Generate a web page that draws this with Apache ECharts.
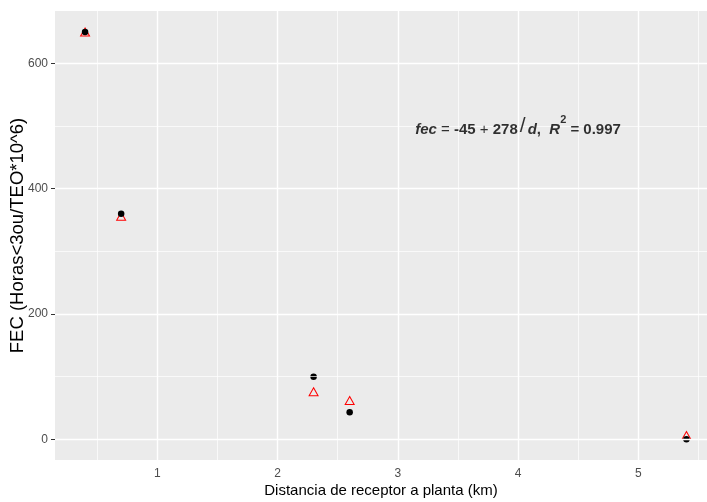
<!DOCTYPE html>
<html>
<head>
<meta charset="utf-8">
<script src="https://cdn.jsdelivr.net/npm/echarts@6/dist/echarts.min.js"></script>
<style>
html,body{margin:0;padding:0;background:#fff;}
#c{width:707px;height:502px;}
</style>
</head>
<body>
<div id="c"></div>
<script>
// Data
var distance = [0.4, 0.7, 2.3, 2.6, 5.4];
var observed = [650, 360, 100, 43, 0];
var fitted = [650, 356, 76, 62, 6];
var xTicks = [1, 2, 3, 4, 5];
var xMinor = [0.5, 1.5, 2.5, 3.5, 4.5, 5.5];
var yTicks = [0, 200, 400, 600];
var yMinor = [100, 300, 500];
var annotationPos = [4, 500];
var xTitle = 'Distancia de receptor a planta (km)';
var yTitle = 'FEC (Horas<3ou/TEO*10^6)';

var FONT = '"Liberation Sans", Arial, sans-serif';
var chart = echarts.init(document.getElementById('c'), null, {renderer: 'canvas'});

function pairs(xs, ys) { return xs.map(function (x, i) { return [x, ys[i]]; }); }

var gridLines = [];
xMinor.forEach(function (v) { gridLines.push({xAxis: v, lineStyle: {color: '#FFFFFF', width: 0.7, type: 'solid'}}); });
yMinor.forEach(function (v) { gridLines.push({yAxis: v, lineStyle: {color: '#FFFFFF', width: 0.7, type: 'solid'}}); });
xTicks.forEach(function (v) { gridLines.push({xAxis: v, lineStyle: {color: '#FFFFFF', width: 1.4, type: 'solid'}}); });
yTicks.forEach(function (v) { gridLines.push({yAxis: v, lineStyle: {color: '#FFFFFF', width: 1.4, type: 'solid'}}); });

chart.setOption({
  animation: false,
  backgroundColor: '#FFFFFF',
  textStyle: {fontFamily: FONT},
  grid: {left: 55, right: 0, top: 11, bottom: 42, show: true, backgroundColor: '#EBEBEB', borderWidth: 0,
         containLabel: false, outerBoundsMode: 'none'},
  xAxis: {
    type: 'value', min: 0.15, max: 5.571,
    name: xTitle, nameLocation: 'middle', nameGap: 23, nameMoveOverlap: false,
    nameTextStyle: {color: '#000', fontSize: 15, fontFamily: FONT},
    axisLine: {show: false},
    axisTick: {show: true, length: 4, customValues: xTicks, lineStyle: {color: '#333333', width: 1}},
    axisLabel: {show: true, customValues: xTicks, color: '#4D4D4D', fontSize: 12, margin: 8, fontFamily: FONT},
    splitLine: {show: false}
  },
  yAxis: {
    type: 'value', min: -33, max: 683.4,
    name: yTitle, nameLocation: 'middle', nameGap: 28, nameRotate: 90, nameMoveOverlap: false,
    nameTextStyle: {color: '#000', fontSize: 18.5, fontWeight: 'normal', fontFamily: FONT},
    axisLine: {show: false},
    axisTick: {show: true, length: 4, customValues: yTicks, lineStyle: {color: '#333333', width: 1}},
    axisLabel: {show: true, customValues: yTicks, color: '#4D4D4D', fontSize: 12, margin: 7, fontFamily: FONT},
    splitLine: {show: false}
  },
  series: [
    {
      type: 'scatter', data: [], z: 1, silent: true,
      markLine: {silent: true, symbol: 'none', animation: false, label: {show: false}, data: gridLines}
    },
    {
      type: 'scatter', z: 3, silent: true,
      symbol: 'triangle', symbolSize: [9, 8],
      itemStyle: {color: 'rgba(0,0,0,0)', borderColor: '#FF0000', borderWidth: 1, opacity: 1},
      data: pairs(distance, fitted)
    },
    {
      type: 'scatter', z: 4, silent: true,
      symbol: 'circle', symbolSize: 6.5,
      itemStyle: {color: '#000000', opacity: 1},
      data: pairs(distance, observed)
    },
    {
      type: 'scatter', z: 5, silent: true, symbolSize: 0,
      data: [annotationPos],
      label: {
        show: true, position: 'inside',
        formatter: '{it|fec}{n| = }{b|-45}{n| + }{b|278}{sl|/}{it|d}{b|,  }{it|R}{sup|2}{b| = 0.997}',
        rich: {
          it: {fontFamily: FONT, fontSize: 15, fontWeight: 'bold', fontStyle: 'italic', color: '#000', lineHeight: 22, verticalAlign: 'bottom'},
          b: {fontFamily: FONT, fontSize: 15, fontWeight: 'bold', color: '#000', lineHeight: 22, verticalAlign: 'bottom'},
          n: {fontFamily: FONT, fontSize: 15, fontWeight: 'normal', color: '#000', lineHeight: 22, verticalAlign: 'bottom'},
          sl: {fontFamily: FONT, fontSize: 21, fontWeight: 'normal', color: '#000', lineHeight: 22, verticalAlign: 'bottom', padding: [0, 2, 0, 2]},
          sup: {fontFamily: FONT, fontSize: 11, fontWeight: 'bold', color: '#000', lineHeight: 22, verticalAlign: 'top'}
        }
      }
    }
  ]
});
</script>
</body>
</html>
